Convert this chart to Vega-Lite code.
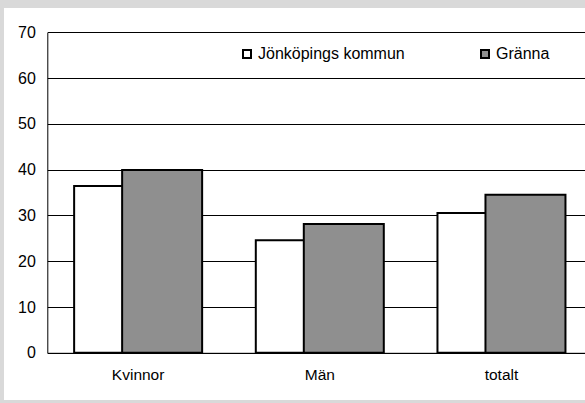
{
  "$schema": "https://vega.github.io/schema/vega-lite/v6.json",
  "width": 581,
  "height": 392,
  "autosize": {"type": "none"},
  "padding": {"left": 4, "top": 8, "right": 0, "bottom": 3},
  "background": "#d9d9d9",
  "config": {
    "view": {"fill": "white", "stroke": null},
    "font": "Liberation Sans"
  },
  "data": {
    "values": [
      {"kategori": "Kvinnor", "serie": "Jönköpings kommun", "andel": 36.4},
      {"kategori": "Kvinnor", "serie": "Gränna", "andel": 39.9},
      {"kategori": "Män", "serie": "Jönköpings kommun", "andel": 24.6},
      {"kategori": "Män", "serie": "Gränna", "andel": 28.1},
      {"kategori": "totalt", "serie": "Jönköpings kommun", "andel": 30.5},
      {"kategori": "totalt", "serie": "Gränna", "andel": 34.5}
    ]
  },
  "encoding": {
    "x": {
      "field": "kategori",
      "type": "nominal",
      "sort": ["Kvinnor", "Män", "totalt"],
      "scale": {"range": [43.3, 588.3], "paddingInner": 0, "paddingOuter": 0},
      "axis": {
        "title": null,
        "offset": -47.2,
        "labelAngle": 0,
        "labelFontSize": 15.5,
        "labelColor": "black",
        "labelPadding": 15,
        "ticks": false,
        "domainColor": "black",
        "domainWidth": 1,
        "grid": false
      }
    },
    "y": {
      "field": "andel",
      "type": "quantitative",
      "scale": {"domain": [0, 70], "range": [344.8, 24.2], "nice": false, "zero": true},
      "axis": {
        "title": null,
        "offset": -43.3,
        "values": [0, 10, 20, 30, 40, 50, 60, 70],
        "labelFontSize": 16,
        "labelColor": "black",
        "labelPadding": 12,
        "ticks": false,
        "domainColor": "black",
        "domainWidth": 1,
        "grid": true,
        "gridColor": "black",
        "gridWidth": 1,
        "gridOpacity": 1
      }
    },
    "fill": {
      "field": "serie",
      "type": "nominal",
      "scale": {"domain": ["Jönköpings kommun", "Gränna"], "range": ["white", "#8f8f8f"]},
      "legend": {
        "title": null,
        "orient": "none",
        "legendX": 235,
        "legendY": 38,
        "direction": "horizontal",
        "padding": 0,
        "symbolType": "square",
        "symbolSize": 64,
        "symbolStrokeColor": "black",
        "symbolStrokeWidth": 2,
        "symbolOpacity": 1,
        "labelFontSize": 16,
        "labelColor": "black",
        "labelOffset": 3,
        "columnPadding": 72
      }
    }
  },
  "layer": [
    {
      "transform": [{"filter": "datum.serie == 'Jönköpings kommun'"}],
      "mark": {"type": "bar", "width": 80, "xOffset": -24, "stroke": "black", "strokeWidth": 2, "opacity": 1}
    },
    {
      "transform": [{"filter": "datum.serie == 'Gränna'"}],
      "mark": {"type": "bar", "width": 80, "xOffset": 24, "stroke": "black", "strokeWidth": 2, "opacity": 1}
    }
  ]
}
